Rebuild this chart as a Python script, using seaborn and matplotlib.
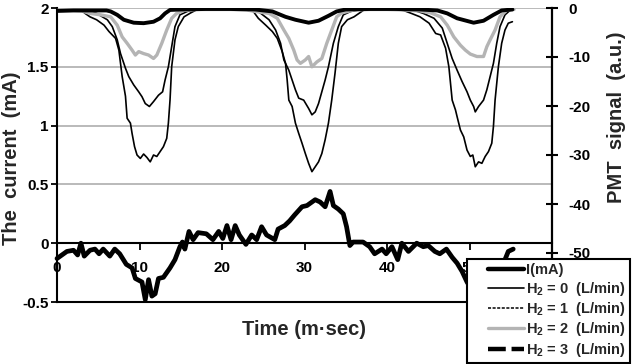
import numpy as np
import matplotlib
matplotlib.use('Agg')
import matplotlib.pyplot as plt
import seaborn as sns
from matplotlib.lines import Line2D
from matplotlib.legend_handler import HandlerLine2D

# discharge current (left axis, mA)
time_current = [0, 1.2, 2.0, 2.5, 2.9, 3.3, 4.0, 4.6, 5.1, 5.6,
                6.4, 7.0, 7.6, 8.4, 9.1, 9.5, 10.3, 10.7, 11.1, 11.5,
                11.9, 12.3, 12.9, 13.7, 14.3, 14.9, 15.2, 15.5, 16.0, 16.5,
                17.1, 18.1, 18.9, 19.6, 20.1, 20.6, 21.1, 21.6, 22.1, 22.9,
                23.6, 24.2, 24.8, 25.4, 26.4, 26.8, 27.6, 28.2, 28.8, 29.7,
                30.3, 31.3, 31.9, 32.5, 33.1, 33.5, 34.1, 34.7, 35.1, 35.5,
                35.9, 37.1, 37.9, 38.5, 39.4, 39.9, 40.6, 41.3, 41.8, 42.6,
                43.6, 44.4, 45.0, 45.8, 46.4, 47.2, 47.9, 48.5, 49.1, 49.7,
                50.5, 51.5, 52.5, 53.5, 54.3, 54.7, 55.3]
current_ma = [-0.13, -0.07, -0.06, -0.10, 0.0, -0.11, -0.06, -0.05, -0.09, -0.05,
              -0.11, -0.05, -0.09, -0.18, -0.21, -0.30, -0.33, -0.48, -0.31, -0.45,
              -0.43, -0.30, -0.29, -0.21, -0.14, -0.03, 0.01, -0.05, 0.10, 0.03,
              0.09, 0.08, 0.03, 0.10, 0.04, 0.15, 0.03, 0.15, 0.07, -0.01,
              0.07, 0.03, 0.14, 0.07, 0.03, 0.12, 0.15, 0.19, 0.24, 0.31,
              0.32, 0.37, 0.35, 0.31, 0.44, 0.32, 0.29, 0.25, 0.14, -0.02,
              0.01, 0.01, -0.03, -0.09, -0.05, -0.09, -0.03, -0.14, 0.0, -0.07,
              0.0, -0.03, -0.02, -0.07, -0.09, -0.05, -0.12, -0.17, -0.24, -0.33,
              -0.42, -0.5, -0.45, -0.32, -0.14, -0.07, -0.05]

# PMT signal (right axis, a.u.) for each H2 flow
time_h0 = [0, 1, 2, 3, 3.4, 4.0, 4.8, 5.7, 6.3, 6.7, 7.1, 7.5, 7.9, 8.3,
           8.5, 8.9, 9.1, 9.4, 9.7, 10.1, 10.5, 10.9, 11.3, 11.7,
           12.1, 12.5, 12.9, 13.3, 13.5, 13.7, 13.9, 14.3, 14.7, 15.4,
           16.2, 17.0, 18, 19, 20, 21, 22, 23,
           23.8, 24.4, 25.3, 26.1, 26.7, 27.3, 27.7, 27.9, 28.1, 28.5,
           28.9, 29.3, 29.7, 30.1, 30.5, 30.9, 31.3, 31.7, 32.1, 32.5,
           32.9, 33.3, 33.7, 34.1, 34.5, 35.2, 36.0, 36.6, 37.2, 38,
           39, 40, 41, 42,
           42.8, 44.0, 45.1, 45.9, 46.5, 47.1, 47.5, 47.9, 48.3, 48.5,
           48.9, 49.3, 49.7, 50.1, 50.4, 50.7, 51.1, 51.5, 51.9, 52.3,
           52.7, 52.9, 53.1, 53.5, 53.9, 54.3, 54.7, 55.2]
pmt_h0 = [-0.5, -0.5, -0.4, -0.5, -1.1, -1.8, -2.4, -3.5, -4.8, -5.5, -6.2, -8.6, -14, -18,
          -22.5, -23.5, -25.6, -28.3, -30, -30.7, -29.8, -30.5, -31.4, -30,
          -30.3, -29.3, -28.3, -26.6, -23.5, -18.8, -12, -6.5, -3.8, -1.8,
          -1, -0.3, -0.2, -0.2, -0.2, -0.2, -0.3, -0.4,
          -0.7, -2.1, -3.5, -4.8, -6.2, -8.9, -11.3, -14.7, -18.8, -20.1,
          -23.5, -25.6, -27.6, -29.7, -31.7, -33.4, -32.4, -31.4, -29.7, -26.9,
          -23.5, -18.8, -13.3, -7.2, -3.8, -2.4, -1.8, -1.1, -0.4, -0.3,
          -0.3, -0.3, -0.3, -0.5,
          -1.0, -1.8, -3.1, -5.2, -5.5, -8.2, -12, -18.8, -20.8, -22.2,
          -24.9, -26.3, -29, -30.3, -30, -32.4, -31.4, -31.7, -30.3, -29.3,
          -27.6, -24.2, -18.8, -12, -7.2, -4.5, -3.1, -2.8]

time_h1 = [0, 1, 2, 3, 4,
           4.8, 6.1, 6.7, 7.3, 7.7, 8.3, 8.7, 9.3, 9.9, 10.3,
           10.7, 11.2, 11.7, 12.3, 12.8, 13.1, 13.5, 13.9, 14.3, 14.9,
           15.8, 16.6, 18, 20, 22, 23.5,
           24.4, 25.7, 26.5, 27.1, 27.5, 28.1, 28.5, 28.9, 29.3, 29.9,
           30.5, 30.9, 31.3, 31.7, 32.1, 32.5, 32.9, 33.5, 34.1, 34.7,
           35.6, 36.6, 38, 40, 42, 43.5,
           44.4, 45.7, 46.7, 47.3, 47.9, 48.5, 49.1, 49.7, 50.1, 50.5,
           50.7, 51.1, 51.7, 52.1, 52.5, 52.9, 53.3, 53.7, 54.3, 54.9,
           55.4]
pmt_h1 = [-0.4, -0.4, -0.4, -0.5, -0.7,
          -1.1, -2.4, -3.8, -6.5, -9.3, -12.3, -14, -15.7, -17.1, -18.1,
          -19.5, -20.1, -19.1, -17.8, -17.1, -14.7, -12, -7.9, -3.8, -1.4,
          -0.7, -0.4, -0.2, -0.2, -0.3, -0.4,
          -0.7, -2.4, -4.5, -7.2, -10.6, -12.7, -14.7, -16.7, -18.4, -18.8,
          -20.5, -21.8, -21.2, -19.5, -17.1, -14.7, -12, -7.2, -3.8, -1.4,
          -0.7, -0.4, -0.3, -0.3, -0.4, -0.6,
          -1.1, -2.1, -4.1, -7.2, -10.3, -12.7, -15, -17.1, -18.8, -20.1,
          -21.2, -20.1, -18.8, -16.7, -14, -11.3, -7.2, -3.8, -1.4, -0.5,
          -0.3]

time_h2 = [0, 1, 2, 3,
           4.0, 5.3, 6.5, 7.3, 7.9, 8.5, 9.1, 9.5, 9.9, 10.5,
           11.1, 11.7, 12.1, 12.7, 13.3, 13.9, 14.5, 15.4,
           17, 19, 21, 23,
           24.0, 25.7, 26.7, 27.5, 28.1, 28.7, 29.1, 29.5, 30.1, 30.5,
           30.9, 31.5, 32.1, 32.7, 33.3, 33.9, 34.5,
           36, 38, 40, 42, 44,
           45.3, 46.5, 47.3, 48.1, 48.9, 49.5, 50.1, 50.9, 51.7, 52.1,
           52.5, 53.1, 53.7, 54.5, 55.4]
pmt_h2 = [-0.5, -0.5, -0.5, -0.6,
          -1.1, -1.4, -1.8, -3.5, -5.9, -7.2, -8.6, -9.6, -8.9, -9.3,
          -9.6, -10.3, -9.6, -7.2, -4.5, -2.1, -1.1, -0.5,
          -0.3, -0.3, -0.3, -0.4,
          -0.7, -1.1, -2.1, -4.5, -6.2, -8.6, -10.6, -11.3, -10.6, -9.9,
          -12, -11, -10.3, -7.2, -4.5, -1.8, -1.0,
          -0.4, -0.3, -0.3, -0.4, -0.6,
          -1.0, -1.8, -3.5, -5.9, -7.6, -8.6, -9.4, -9.9, -9.9, -7.9,
          -6.5, -4.5, -1.8, -0.4, -0.3]

time_h3 = [0, 2, 4, 6.0, 6.5, 7.3, 8.1, 9.3, 10.5, 11.7,
           12.5, 13.1, 13.7, 15, 18, 21, 24, 26.1, 27.7, 28.9,
           30.5, 31.7, 32.9, 33.9, 35, 38, 41, 44, 46.1, 47.3,
           48.5, 50.5, 51.7, 52.9, 53.9, 55.2]
pmt_h3 = [-0.6, -0.5, -0.5, -0.5, -0.7, -1.4, -2.4, -3.0, -3.1, -2.8,
          -2.1, -1.1, -0.4, -0.3, -0.2, -0.2, -0.3, -0.7, -1.8, -2.4,
          -3.0, -2.6, -1.6, -0.7, -0.3, -0.2, -0.2, -0.3, -0.5, -1.1,
          -2.1, -3.0, -2.6, -1.4, -0.5, -0.3]

left_ticks = [-0.5, 0, 0.5, 1, 1.5, 2]
left_labels = ['-0.5', '0', '0.5', '1', '1.5', '2']
right_ticks = [-50, -40, -30, -20, -10, 0]
time_ticks = [0, 10, 20, 30, 40, 50]

legend_labels = ['I(mA)',
                 r'H$_2$ = 0  (L/min)',
                 r'H$_2$ = 1  (L/min)',
                 r'H$_2$ = 2  (L/min)',
                 r'H$_2$ = 3  (L/min)']

GRAY = '#b4b4b4'

sns.set_theme(style='white')
plt.rcParams['font.family'] = ['Liberation Sans', 'DejaVu Sans']
plt.rcParams['font.weight'] = 'bold'
plt.rcParams['axes.labelweight'] = 'bold'
plt.rcParams['mathtext.fontset'] = 'custom'
plt.rcParams['mathtext.rm'] = 'Liberation Sans:bold'
plt.rcParams['mathtext.default'] = 'rm'


class InsetLine(HandlerLine2D):
    """legend line that starts a bit in from the frame, like the original"""
    def get_xdata(self, legend, xdescent, ydescent, width, height, fontsize):
        return [-xdescent + 0.32 * width, -xdescent + width], [-xdescent + 0.6 * width]


fig = plt.figure(figsize=(6.4, 3.64), dpi=100)
ax = fig.add_axes([57 / 640, 1 - 302 / 364, (552 - 57) / 640, (302 - 8) / 364])
ax2 = ax.twinx()

sns.lineplot(x=time_current, y=current_ma, ax=ax, color='black', lw=3.4,
             sort=False, estimator=None, clip_on=False)

sns.lineplot(x=time_h0, y=pmt_h0, ax=ax2, color='black', lw=1.2, sort=False, estimator=None)
sns.lineplot(x=time_h1, y=pmt_h1, ax=ax2, color='black', lw=1.2, sort=False, estimator=None)
sns.lineplot(x=time_h2, y=pmt_h2, ax=ax2, color=GRAY, lw=2.4, sort=False, estimator=None)
sns.lineplot(x=time_h3, y=pmt_h3, ax=ax2, color='black', lw=2.8, sort=False, estimator=None)

ax.set_xlim(0, 60)
ax.set_ylim(-0.5, 2)
ax2.set_ylim(-60, 0)

ax.set_xticks(time_ticks)
ax.set_xticklabels([str(t) for t in time_ticks])
ax.set_yticks(left_ticks)
ax.set_yticklabels(left_labels)
ax2.set_yticks(right_ticks)
ax2.set_yticklabels([str(t) for t in right_ticks])

ax.set_axisbelow(True)
ax.yaxis.grid(True, color=GRAY, lw=1.3)
ax.xaxis.grid(False)

# excel style: time axis crosses at 0, frame closed at -0.5
ax.spines['bottom'].set_position(('data', 0))
ax.spines['top'].set_position(('data', -0.5))
ax.spines['right'].set_visible(False)
for name in ['left', 'bottom', 'top']:
    ax.spines[name].set_color('black')
    ax.spines[name].set_linewidth(1.5)
for name in ['left', 'bottom', 'top']:
    ax2.spines[name].set_visible(False)
ax2.spines['right'].set_color('black')
ax2.spines['right'].set_linewidth(1.6)

ax.tick_params(axis='y', left=True, direction='out', length=4, width=1.3,
               colors='black', labelsize=11, pad=2)
ax.tick_params(axis='x', bottom=True, top=False, direction='out', length=5, width=1.3,
               colors='black', labelsize=11, pad=8)
ax2.tick_params(axis='y', right=True, direction='inout', length=9, width=1.5,
                colors='black', labelsize=11, pad=7)

ax.set_xlabel('Time (m\u00b7sec)', fontsize=14.5)
ax.xaxis.set_label_coords(0.5, -0.062)
ax.set_ylabel('The  current  (mA)', fontsize=14.5)
ax.yaxis.set_label_coords(-0.072, 0.49)
ax2.set_ylabel('PMT  signal  (a.u.)', fontsize=14.5)
ax2.yaxis.set_label_coords(1.112, 0.63)

handles = [Line2D([], [], color='black', lw=3.2),
           Line2D([], [], color='black', lw=1.2),
           Line2D([], [], color='black', lw=1.1, ls=(0, (2, 1))),
           Line2D([], [], color=GRAY, lw=2.4),
           Line2D([], [], color='black', lw=3.2, ls=(0, (4, 1.3)))]
leg = fig.legend(handles, legend_labels, loc='upper left',
                 bbox_to_anchor=(467 / 640, 1 - 259 / 364), bbox_transform=fig.transFigure,
                 frameon=True, fancybox=False, framealpha=1, edgecolor='black',
                 fontsize=10.5, handlelength=3.6, handletextpad=0.15, labelspacing=0.16,
                 borderpad=0.3, borderaxespad=0,
                 handler_map={Line2D: InsetLine()})
leg.get_frame().set_linewidth(1.5)

fig.savefig('out.png', dpi=100)
